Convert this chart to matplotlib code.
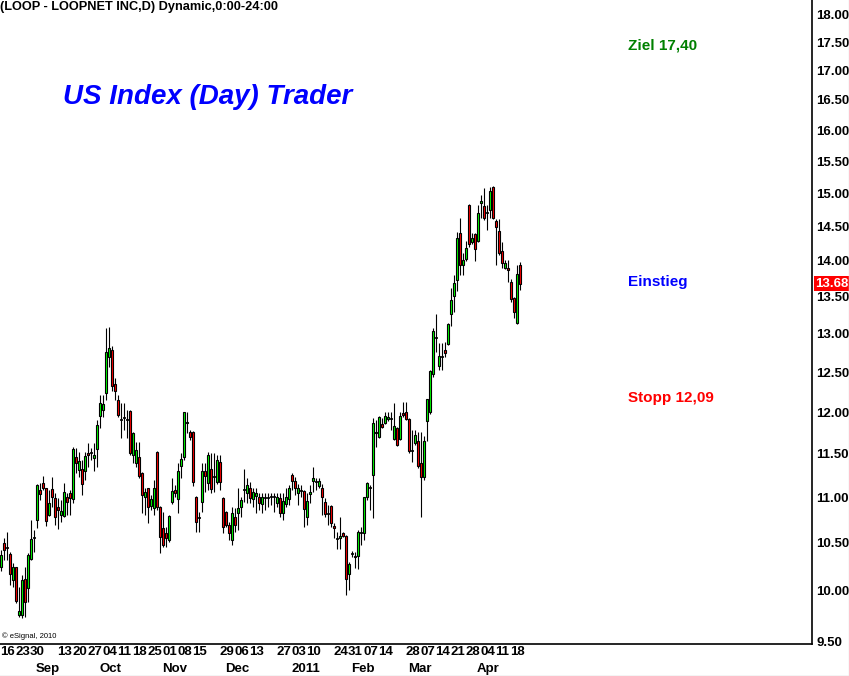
import matplotlib
matplotlib.use('Agg')
import matplotlib.pyplot as plt
import pandas as pd
from matplotlib.transforms import blended_transform_factory
from matplotlib.ticker import FixedLocator, NullLocator
from matplotlib.lines import Line2D

plt.rcParams['font.family'] = ['Liberation Sans', 'DejaVu Sans']

# ---------------- data ----------------
opens = [10.25, 10.50, 10.45, 10.38, 10.11, 10.25, 9.76, 9.76, 10.12, 10.03,
         10.33, 10.55, 10.75, 11.08, 11.16, 11.10, 10.80, 11.09, 10.99, 10.89,
         10.80, 10.79, 11.00, 11.05, 10.98, 11.46, 11.31, 11.32, 11.30, 11.51,
         11.51, 11.45, 11.56, 11.95, 12.03, 12.24, 12.69, 12.79, 12.35, 12.15,
         11.90, 11.93, 11.90, 12.01, 11.49, 11.39, 11.46, 11.28, 11.00, 11.10,
         10.90, 10.88, 11.52, 10.89, 10.66, 10.61, 10.53, 10.95, 11.08, 10.98,
         11.36, 11.46, 11.87, 11.76, 11.76, 11.00, 10.77, 10.95, 11.30, 11.16,
         11.32, 11.23, 11.17, 11.40, 10.99, 10.84, 10.69, 10.53, 10.78, 10.83,
         10.89, 11.08, 11.05, 11.11, 10.98, 11.02, 11.00, 10.93, 10.99, 10.99,
         11.00, 11.00, 10.94, 10.99, 10.83, 10.93, 10.98, 11.25, 11.18, 11.05,
         11.07, 11.07, 10.78, 11.04, 11.18, 11.17, 11.13, 11.10, 10.95, 10.81,
         10.90, 10.68, 10.54, 10.55, 10.61, 10.57, 10.17, 10.38, 10.36, 10.36,
         10.61, 10.61, 11.00, 11.10, 11.25, 11.76, 11.70, 11.86, 11.87, 11.92,
         11.92, 11.67, 11.81, 11.67, 11.99, 12.00, 11.92, 11.53, 11.63, 11.65,
         11.39, 11.23, 11.89, 12.00, 12.47, 12.94, 12.58, 12.69, 12.78, 12.86,
         13.26, 13.51, 13.73, 14.41, 13.94, 14.03, 14.82, 14.27, 14.39, 14.29,
         14.85, 14.80, 14.70, 14.75, 15.10, 14.58, 14.43, 14.14, 13.90, 13.90,
         13.70, 13.48, 13.14, 13.94]
highs = [10.42, 10.55, 10.62, 10.40, 10.29, 10.25, 10.04, 10.16, 10.24, 10.39,
         10.75, 10.64, 11.15, 11.16, 11.24, 11.11, 11.08, 11.23, 11.05, 10.99,
         10.97, 11.16, 11.05, 11.08, 11.58, 11.57, 11.52, 11.43, 11.52, 11.63,
         11.57, 11.63, 11.90, 12.21, 12.21, 13.07, 13.09, 12.84, 12.42, 12.21,
         12.11, 12.11, 12.03, 12.02, 11.76, 11.64, 11.64, 11.29, 11.10, 11.11,
         11.03, 11.20, 11.53, 10.90, 10.84, 10.67, 10.80, 11.22, 11.14, 11.39,
         11.51, 12.00, 12.00, 11.78, 11.77, 11.01, 10.84, 11.39, 11.39, 11.52,
         11.51, 11.51, 11.49, 11.49, 11.00, 10.85, 10.73, 10.89, 10.88, 11.10,
         11.00, 11.32, 11.22, 11.17, 11.10, 11.10, 11.05, 11.05, 11.05, 11.05,
         11.05, 11.05, 11.05, 11.05, 11.05, 11.10, 11.14, 11.28, 11.23, 11.15,
         11.14, 11.08, 11.05, 11.14, 11.35, 11.22, 11.22, 11.15, 10.99, 10.91,
         10.91, 10.71, 10.62, 10.78, 10.62, 10.58, 10.30, 10.41, 10.40, 10.64,
         10.67, 11.00, 11.17, 11.14, 11.93, 11.90, 11.95, 11.93, 12.00, 12.00,
         12.00, 12.11, 11.82, 12.00, 12.12, 12.12, 11.93, 11.78, 11.78, 11.76,
         11.76, 11.71, 12.16, 12.53, 13.07, 13.26, 12.88, 12.88, 12.89, 13.14,
         13.62, 13.80, 14.42, 14.62, 14.11, 14.29, 14.83, 14.41, 14.41, 14.82,
         14.98, 15.08, 14.82, 15.10, 15.11, 14.61, 14.61, 14.27, 14.01, 14.01,
         13.74, 13.49, 13.94, 13.98]
lows = [10.20, 10.32, 10.32, 10.06, 10.04, 9.88, 9.74, 9.73, 9.74, 9.89,
        10.32, 10.40, 10.66, 10.97, 11.08, 10.68, 10.79, 10.89, 10.69, 10.65,
        10.73, 10.78, 10.80, 10.80, 10.94, 11.28, 11.23, 11.03, 11.20, 11.35,
        11.43, 11.30, 11.34, 11.81, 11.94, 12.15, 12.56, 12.26, 12.15, 11.94,
        11.69, 11.78, 11.69, 11.49, 11.39, 11.35, 11.22, 10.83, 10.80, 10.72,
        10.86, 10.80, 10.86, 10.39, 10.46, 10.46, 10.51, 10.92, 11.00, 10.83,
        11.22, 11.43, 11.75, 11.66, 11.13, 10.62, 10.62, 10.84, 11.06, 11.08,
        11.05, 11.06, 11.15, 11.08, 10.61, 10.67, 10.53, 10.48, 10.62, 10.64,
        10.78, 10.95, 10.94, 10.94, 10.89, 10.83, 10.86, 10.83, 10.86, 10.89,
        10.91, 10.84, 10.89, 10.78, 10.75, 10.89, 10.91, 11.08, 11.03, 10.91,
        11.00, 10.67, 10.69, 10.94, 11.06, 11.08, 11.10, 10.80, 10.78, 10.69,
        10.67, 10.55, 10.44, 10.44, 10.56, 9.96, 10.01, 10.35, 10.23, 10.22,
        10.48, 10.53, 10.97, 10.86, 10.77, 11.58, 11.69, 11.81, 11.85, 11.89,
        11.78, 11.66, 11.59, 11.66, 11.94, 11.90, 11.51, 11.40, 11.60, 11.33,
        10.78, 11.20, 11.65, 11.98, 12.44, 12.76, 12.53, 12.53, 12.69, 12.85,
        13.10, 13.29, 13.58, 13.80, 13.80, 14.00, 14.20, 14.24, 14.00, 14.27,
        14.62, 14.60, 14.45, 14.63, 14.61, 13.94, 14.09, 13.90, 13.89, 13.70,
        13.42, 13.21, 13.13, 13.59]
closes = [10.37, 10.42, 10.45, 10.17, 10.24, 9.90, 9.80, 10.11, 9.89, 10.37,
          10.54, 10.55, 11.14, 11.04, 11.10, 10.74, 10.94, 11.00, 10.78, 10.86,
          10.85, 11.06, 10.95, 10.99, 11.56, 11.39, 11.42, 11.15, 11.47, 11.49,
          11.51, 11.49, 11.84, 12.11, 12.10, 12.76, 12.81, 12.32, 12.26, 11.96,
          11.90, 11.93, 11.90, 11.51, 11.75, 11.54, 11.24, 11.03, 11.06, 10.89,
          10.98, 11.10, 10.89, 10.56, 10.48, 10.55, 10.79, 11.07, 11.05, 11.30,
          11.44, 12.00, 11.88, 11.70, 11.17, 10.73, 10.77, 11.30, 11.24, 11.49,
          11.09, 11.23, 11.43, 11.17, 10.67, 10.69, 10.61, 10.83, 10.69, 10.88,
          10.97, 11.08, 11.14, 10.99, 11.06, 11.05, 10.94, 11.00, 10.99, 10.99,
          11.00, 11.00, 11.00, 10.83, 10.96, 11.00, 11.11, 11.18, 11.11, 11.11,
          11.07, 10.87, 10.96, 11.06, 11.22, 11.17, 11.18, 11.00, 10.81, 10.81,
          10.71, 10.66, 10.54, 10.57, 10.57, 10.12, 10.28, 10.38, 10.35, 10.62,
          10.61, 11.00, 11.16, 11.10, 11.87, 11.74, 11.94, 11.82, 11.95, 11.94,
          11.92, 11.83, 11.60, 11.95, 11.96, 11.92, 11.53, 11.53, 11.72, 11.36,
          11.23, 11.65, 12.16, 12.51, 13.03, 12.94, 12.71, 12.69, 12.74, 13.13,
          13.45, 13.69, 14.33, 13.94, 14.01, 14.19, 14.24, 14.33, 14.17, 14.70,
          14.88, 14.63, 14.70, 15.04, 14.63, 14.49, 14.11, 13.97, 13.97, 13.87,
          13.47, 13.29, 13.81, 13.68]

holidays = ['2010-09-06', '2010-11-25', '2010-12-24', '2011-01-17', '2011-02-21']
first_day, last_day = '2010-08-16', '2011-04-21'

day_label_dates = ['2010-08-16', '2010-08-23', '2010-08-30', '2010-09-13', '2010-09-20',
                   '2010-09-27', '2010-10-04', '2010-10-11', '2010-10-18', '2010-10-25',
                   '2010-11-01', '2010-11-08', '2010-11-15', '2010-11-29', '2010-12-06',
                   '2010-12-13', '2010-12-27', '2011-01-03', '2011-01-10', '2011-01-24',
                   '2011-01-31', '2011-02-07', '2011-02-14', '2011-02-28', '2011-03-07',
                   '2011-03-14', '2011-03-21', '2011-03-28', '2011-04-04', '2011-04-11',
                   '2011-04-18']
month_names = ['Sep', 'Oct', 'Nov', 'Dec', '2011', 'Feb', 'Mar', 'Apr']
month_starts = ['2010-09', '2010-10', '2010-11', '2010-12', '2011-01', '2011-02', '2011-03', '2011-04']

price_ticks = [9.5, 10.0, 10.5, 11.0, 11.5, 12.0, 12.5, 13.0, 13.5, 14.0,
               14.5, 15.0, 15.5, 16.0, 16.5, 17.0, 17.5, 18.0]

target_label, target_price = 'Ziel 17,40', 17.45
entry_label, entry_price = 'Einstieg', 13.70
stop_label, stop_price = 'Stopp 12,09', 12.17

header = '(LOOP - LOOPNET INC,D) Dynamic,0:00-24:00'
title = 'US Index (Day) Trader'

# ---------------- dates ----------------
dates = pd.bdate_range(first_day, last_day)
dates = dates[~dates.isin(pd.to_datetime(holidays))]
n = len(opens)
date_pos = {d.strftime('%Y-%m-%d'): i for i, d in enumerate(dates[:n])}
month_pos = {}
for i, d in enumerate(dates[:n]):
    key = d.strftime('%Y-%m')
    if key not in month_pos:
        month_pos[key] = i

# ---------------- figure ----------------
W, H = 849, 676
fig = plt.figure(figsize=(W / 100, H / 100), dpi=100)
fig.patch.set_facecolor('white')
ax_right, ax_bottom = 812, 644
ax = fig.add_axes([0, 1 - ax_bottom / H, ax_right / W, ax_bottom / H])
ax.set_facecolor('white')
ax.set_yscale('log')
ax.set_ylim(9.471, 18.27)
ax.set_xlim(-1 / 3, ax_right / 3 - 1 / 3)

xs = list(range(n))
# wicks
ax.vlines(xs, lows, highs, color='black', linewidth=0.8, zorder=2)
# bodies
for i in xs:
    o, c = opens[i], closes[i]
    if c > o:
        fc = '#00ff00'
    elif c < o:
        fc = '#ff0000'
    else:
        fc = 'black'
    lo, hi = min(o, c), max(o, c)
    if hi == lo:
        ax.hlines(o, i - 0.5, i + 0.5, color='black', linewidth=1.2, zorder=3)
    else:
        ax.bar(i, hi - lo, bottom=lo, width=0.85, color=fc, edgecolor='black',
               linewidth=0.8, zorder=3)

# spines
for s in ['top', 'left']:
    ax.spines[s].set_visible(False)
for s in ['right', 'bottom']:
    ax.spines[s].set_color('black')
    ax.spines[s].set_linewidth(1.2)

LBL = 9.5
# y axis
ax.yaxis.set_major_locator(FixedLocator(price_ticks))
ax.yaxis.set_minor_locator(NullLocator())
ax.yaxis.tick_right()
ax.set_yticks(price_ticks)
ax.set_yticklabels([f'{p:.2f}' for p in price_ticks], fontweight='bold', fontsize=LBL)
ax.tick_params(axis='y', length=0, pad=3, colors='black')
ax.set_xticks([])

# last price box
btr = blended_transform_factory(ax.transAxes, ax.transData)
ax.text(1.004, closes[-1], f'{closes[-1]:.2f}', transform=btr, ha='left', va='center',
        color='white', fontweight='bold', fontsize=LBL, zorder=10,
        bbox=dict(facecolor='#ff0000', edgecolor='none', pad=1.0))

# x labels
xtr = ax.get_xaxis_transform()
for d in day_label_dates:
    if d in date_pos:
        ax.text(date_pos[d] - 0.3, -8 / ax_bottom, pd.Timestamp(d).strftime('%d'),
                transform=xtr, ha='left', va='center', fontsize=LBL,
                fontweight='bold', clip_on=False)
for name, m in zip(month_names, month_starts):
    if m in month_pos:
        ax.text(month_pos[m] - 0.3, -25 / ax_bottom, name, transform=xtr,
                ha='left', va='center', fontsize=LBL, fontweight='bold', clip_on=False)

# annotations
ax.text(628 / ax_right, target_price, target_label, transform=btr, ha='left',
        va='center', color='#008000', fontsize=11, fontweight='bold')
ax.text(628 / ax_right, entry_price, entry_label, transform=btr, ha='left',
        va='center', color='#0000ff', fontsize=11, fontweight='bold')
ax.text(628 / ax_right, stop_price, stop_label, transform=btr, ha='left',
        va='center', color='#ff0000', fontsize=11, fontweight='bold')

ax.text(63 / ax_right, 1 - 97 / ax_bottom, title, transform=ax.transAxes, ha='left',
        va='center', color='#0000ff', fontsize=20, fontweight='bold', style='italic')

fig.text(0.5 / W, 1 - 7 / H, header, ha='left', va='center', fontsize=9.2,
         fontweight='bold', color='black')
fig.text(2 / W, 1 - 636 / H, '\u00a9 eSignal, 2010', ha='left', va='center',
         fontsize=5.5, color='black')

# light grey frame at the right and bottom edge of the picture
fig.add_artist(Line2D([0, 1], [0.5 / H, 0.5 / H], transform=fig.transFigure,
                      color='#c8c8c8', linewidth=1))
fig.add_artist(Line2D([1 - 0.5 / W, 1 - 0.5 / W], [0, 1], transform=fig.transFigure,
                      color='#e0e0e0', linewidth=1))

fig.savefig('out.png', dpi=100, facecolor='white')
